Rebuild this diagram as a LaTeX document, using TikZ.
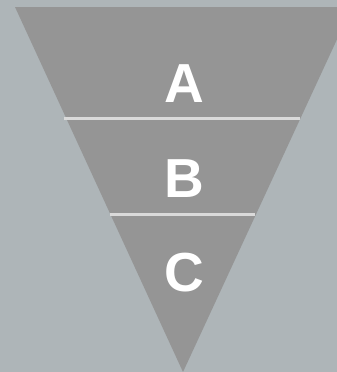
\documentclass[tikz,border=0pt]{standalone}
\usepackage{fontspec}
\setmainfont{Liberation Sans}
\definecolor{bgc}{HTML}{AEB5B8}
\definecolor{tric}{HTML}{959595}
\definecolor{linec}{HTML}{DADADA}
\tikzset{
  lbl/.style={text=white, font=\fontsize{55}{55}\selectfont\bfseries, inner sep=0pt, anchor=base},
  sep/.style={draw=linec, line width=3pt}
}
\begin{document}
\begin{tikzpicture}[x=1pt,y=-1pt]
\useasboundingbox (0,0) rectangle (337,372);
\fill[bgc] (0,0) rectangle (337,372);
\clip (0,0) rectangle (337,372);
\fill[tric] (15,7) -- (352,7) -- (183,372) -- cycle;
\coordinate (l1) at (64,118);
\coordinate (r1) at (300,118);
\coordinate (l2) at (110,214);
\coordinate (r2) at (255,214);
\draw[sep] (l1) -- (r1);
\draw[sep] (l2) -- (r2);
\node[lbl] (a) at (184,102.5) {A};
\node[lbl] (b) at (184,197.5) {B};
\node[lbl] (c) at (184,291.5) {C};
\end{tikzpicture}
\end{document}
